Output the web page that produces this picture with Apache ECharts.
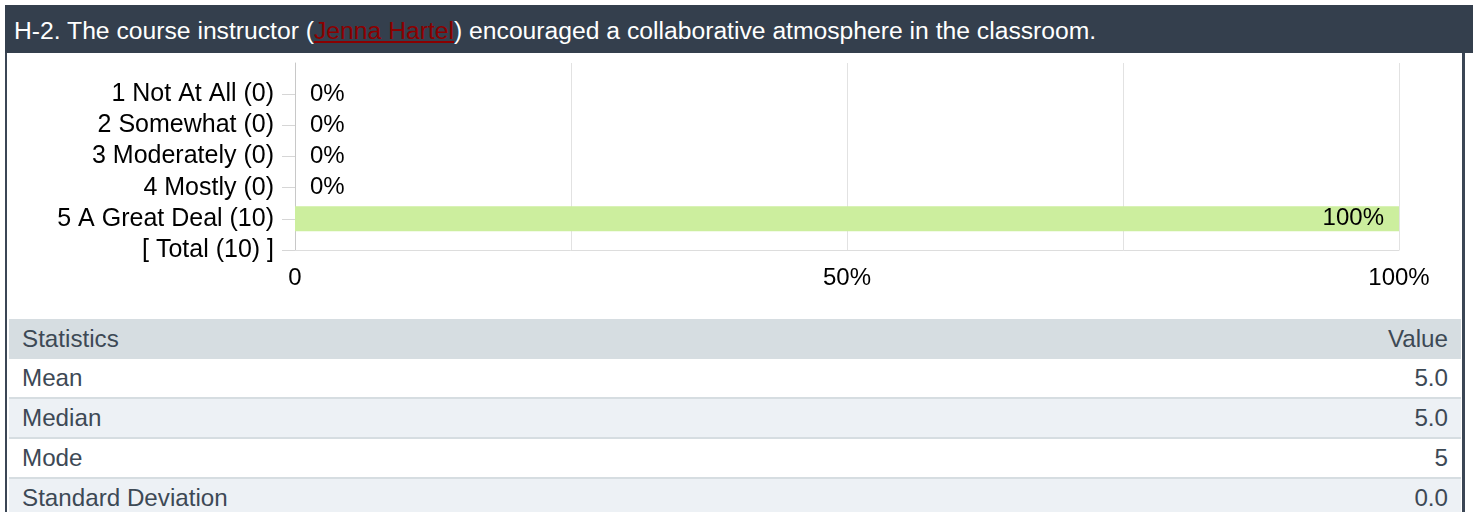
<!DOCTYPE html>
<html>
<head>
<meta charset="utf-8">
<script src="https://cdn.jsdelivr.net/npm/echarts@6/dist/echarts.min.js"></script>
<style>
  html, body { margin: 0; padding: 0; background: #fff; width: 1473px; height: 512px; overflow: hidden; }
  body { font-family: "Liberation Sans", Arial, sans-serif; position: relative; }
  .head {
    position: absolute; left: 5px; top: 5px; width: 1468px; height: 48px;
    background: #343f4d; color: #fff; font-size: 24.7px; line-height: 46px;
    box-sizing: border-box; padding-top: 3px; padding-left: 9px; white-space: nowrap;
  }
  .head a { color: #8b0000; text-decoration: underline; }
  .box {
    position: absolute; left: 5px; top: 53px; width: 1460px; height: 459px;
    border-left: 2px solid #3b4655; border-right: 3px solid #3b4655; box-sizing: border-box;
  }
  #chart { position: absolute; left: 7px; top: 53px; width: 1455px; height: 266px; }
  table.stats {
    position: absolute; left: 9px; top: 319px; width: 1452px;
    border-collapse: collapse; font-size: 24.2px; color: #3d4955;
  }
  table.stats td { padding: 0 13px; height: 38px; border-bottom: 2px solid #d6dde1; }
  table.stats td.v { text-align: right; }
  table.stats tr.hd td { background: #d6dde1; height: 40px; border-bottom: none; }
  table.stats tr.alt td { background: #edf1f5; }
</style>
</head>
<body>
<div class="head">H-2. The course instructor (<a>Jenna Hartel</a>) encouraged a collaborative atmosphere in the classroom.</div>
<div class="box"></div>
<div id="chart"></div>
<table class="stats" id="stats"></table>
<script>
// answers and share of responses (%)
var categories = ["1 Not At All (0)", "2 Somewhat (0)", "3 Moderately (0)", "4 Mostly (0)", "5 A Great Deal (10)"];
var percents = [0, 0, 0, 0, 100];
var totalLabel = "[ Total (10) ]";
var xTicks = [0, 50, 100];

var statNames = ["Mean", "Median", "Mode", "Standard Deviation"];
var statValues = ["5.0", "5.0", "5", "0.0"];

var font = "Liberation Sans, Arial, sans-serif";

// empty slot on top so rows sit like the original layout
var yData = [""].concat(categories).concat([totalLabel]);
var barData = ["-"].concat(percents.map(function (v) {
  return {
    value: v,
    label: v > 0
      ? { position: "insideRight", distance: 15 }
      : { position: "right", distance: 15 }
  };
})).concat(["-"]);

var chart = echarts.init(document.getElementById("chart"));
chart.setOption({
  animation: false,
  grid: { left: 288, right: 63, top: 10, bottom: 69 },
  xAxis: {
    type: "value",
    min: 0,
    max: 100,
    interval: 25,
    axisLine: { show: true, lineStyle: { color: "#dddddd", width: 1 } },
    axisTick: { show: false },
    splitLine: { show: true, lineStyle: { color: "#e2e2e2", width: 1 } },
    axisLabel: {
      margin: 16,
      color: "#000",
      fontSize: 24,
      fontFamily: font,
      formatter: function (v) {
        if (xTicks.indexOf(v) < 0) return "";
        return v === 0 ? "0" : v + "%";
      }
    }
  },
  yAxis: {
    type: "category",
    inverse: true,
    boundaryGap: false,
    data: yData,
    axisLine: { show: true, lineStyle: { color: "#c8c8c8", width: 1 } },
    axisTick: {
      show: true,
      length: 13,
      interval: function (i) { return i !== 0; },
      lineStyle: { color: "#d6d6d6" }
    },
    splitLine: { show: false },
    axisLabel: {
      interval: 0,
      margin: 21,
      color: "#000",
      fontSize: 25,
      fontFamily: font
    }
  },
  series: [{
    type: "bar",
    data: barData,
    barWidth: 25,
    itemStyle: { color: "#ccee9e" },
    label: {
      show: true,
      color: "#000",
      fontSize: 24,
      fontFamily: font,
      formatter: function (p) { return p.value + "%"; }
    }
  }]
});

// statistics table
var rows = '<tr class="hd"><td>Statistics</td><td class="v">Value</td></tr>';
statNames.forEach(function (n, i) {
  rows += '<tr class="' + (i % 2 ? "alt" : "") + '"><td>' + n + '</td><td class="v">' + statValues[i] + '</td></tr>';
});
document.getElementById("stats").innerHTML = rows;
</script>
</body>
</html>
